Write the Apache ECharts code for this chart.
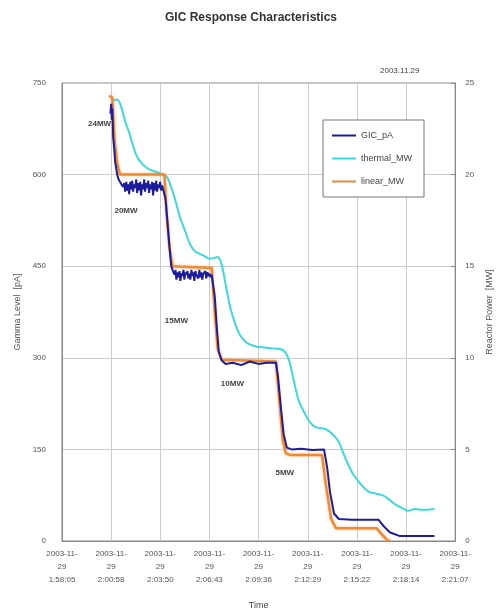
<!DOCTYPE html>
<html><head><meta charset="utf-8">
<script src="https://cdn.jsdelivr.net/npm/echarts@6/dist/echarts.min.js"></script>
<style>html,body{margin:0;padding:0;background:#fff}#c{width:502px;height:616px}</style>
</head><body><div id="c"></div>
<script>
// elapsed seconds from 1:58:05 (2003-11-29)
const xTickLabels = ['1:58:05','2:00:58','2:03:50','2:06:43','2:09:36','2:12:29','2:15:22','2:18:14','2:21:07'];
const tickStep = 172.75;

const gicT = [170,173,175,177,180,184,187,190,194,199,204,209,215,219,222,226,229,233,236,240,243,247,250,254,257,261,264,268,271,275,278,282,285,289,292,296,299,303,306,310,313,317,320,324,327,331,334,338,341,345,348,352,357,364,371,378,384,390,395,399,402,406,409,413,416,420,423,427,430,434,437,441,444,448,451,455,458,462,465,469,472,476,479,483,486,490,493,497,500,504,507,511,514,518,522,526,530,537,544,551,561,575,600,630,660,690,720,752,759,769,779,790,807,840,880,921,932,942,956,973,1020,1070,1112,1129,1153,1188,1250,1309];
const gicPA = [700,716,690,708,660,640,620,612,600,592,588,584,580,586,572,588,574,584,568,588,576,590,572,584,578,592,570,586,574,588,566,584,576,592,572,586,578,590,570,584,576,588,566,586,574,590,572,584,578,588,574,582,582,560,520,480,450,442,436,444,428,440,432,442,426,438,434,444,428,440,436,442,430,438,428,444,434,440,426,442,436,438,430,444,432,440,428,438,436,442,430,440,434,438,432,436,435,400,350,310,296,290,292,288,294,290,292,292,270,220,175,153,150,151,149,150,120,80,45,36,35,35,35,25,14,8,8,8];

const thermalT = [173,194,208,222,236,249,263,281,305,339,367,384,398,416,433,450,468,495,520,547,561,575,592,610,627,651,686,755,779,797,814,831,849,870,894,928,953,973,991,1008,1025,1050,1077,1101,1126,1147,1171,1195,1216,1240,1268,1309];
const thermalMW = [24.0,24.1,23.7,22.9,22.3,21.6,21.0,20.6,20.3,20.1,19.9,19.3,18.6,17.6,16.9,16.2,15.8,15.6,15.4,15.5,15.1,14.0,12.7,11.8,11.2,10.8,10.6,10.5,10.4,9.9,8.8,7.7,7.1,6.5,6.2,6.1,5.8,5.4,4.7,4.1,3.6,3.1,2.7,2.6,2.5,2.3,2.0,1.8,1.65,1.75,1.7,1.75];

const linearT = [166,177,184,194,204,360,367,378,388,526,537,547,561,752,762,776,786,800,914,928,946,963,1105,1122,1143,1153];
const linearMW = [24.3,24.2,22.0,20.6,20.0,20.0,18.0,16.0,15.0,14.9,12.5,10.5,9.9,9.8,8.0,5.5,4.8,4.7,4.7,3.0,1.2,0.7,0.7,0.4,0.05,0];

const noteText = ['24MW','20MW','15MW','10MW','5MW'];
const noteT = [132,225,402,599,783];
const noteMW = [22.8,18.0,12.0,8.6,3.7];

const zip = (a,b)=>a.map((v,i)=>[v,b[i]]);
const chart = echarts.init(document.getElementById('c'));
const axisFont = {fontFamily:'Liberation Sans', fontSize:8, color:'#555'};
chart.setOption({
  animation:false,
  backgroundColor:'#fff',
  title:[
    {text:'GIC Response Characteristics', left:'center', top:7,
     textStyle:{fontFamily:'Liberation Sans', fontSize:12, fontWeight:'bold', color:'#333'}},
    {text:'2003.11.29', left:375, top:62, textStyle:{fontFamily:'Liberation Sans', fontSize:8, fontWeight:'normal', color:'#444'}}
  ],
  legend:{
    orient:'vertical', left:323, top:120, itemWidth:24, itemHeight:2, itemGap:14,
    backgroundColor:'#fff', borderColor:'#777', borderWidth:1, padding:[11,12,11,9],
    icon:'rect',
    textStyle:{fontFamily:'Liberation Sans', fontSize:9, color:'#444'},
    data:['GIC_pA','thermal_MW','linear_MW']
  },
  grid:{left:62, right:41, top:83, bottom:75, show:true, borderColor:'#888', borderWidth:1},
  xAxis:{
    type:'value', min:0, max:tickStep*8, interval:tickStep,
    name:'Time', nameLocation:'middle', nameGap:60,
    nameTextStyle:{fontFamily:'Liberation Sans', fontSize:9, color:'#444'},
    axisLine:{lineStyle:{color:'#888'}}, axisTick:{show:false},
    splitLine:{lineStyle:{color:'#ccc'}},
    axisLabel:Object.assign({}, axisFont, {lineHeight:13, margin:6,
      formatter:v=>{const i=Math.round(v/tickStep); return '2003-11-\n29\n'+xTickLabels[i];}})
  },
  yAxis:[
    {type:'value', min:0, max:750, interval:150, name:'Gamma Level  [pA]', nameLocation:'middle', nameGap:36,
     nameTextStyle:{fontFamily:'Liberation Sans', fontSize:9, color:'#555'},
     axisLine:{show:true, lineStyle:{color:'#888'}}, axisTick:{show:false},
     splitLine:{lineStyle:{color:'#ccc'}}, axisLabel:Object.assign({}, axisFont, {margin:16})},
    {type:'value', min:0, max:25, interval:5, name:'Reactor Power  [MW]', nameLocation:'middle', nameGap:24,
     nameTextStyle:{fontFamily:'Liberation Sans', fontSize:9, color:'#555'},
     axisLine:{show:true, lineStyle:{color:'#888'}}, axisTick:{show:true, inside:true, length:4, lineStyle:{color:'#888'}},
     splitLine:{show:false}, axisLabel:Object.assign({}, axisFont, {margin:10})}
  ],
  series:[
    {name:'thermal_MW', type:'line', yAxisIndex:1, data:zip(thermalT,thermalMW), showSymbol:false, smooth:0.3,
     color:'#3fd8dc', lineStyle:{width:2, color:'#3fd8dc'}, z:2},
    {name:'linear_MW', type:'line', yAxisIndex:1, data:zip(linearT,linearMW), showSymbol:false,
     color:'#e88a3a', lineStyle:{width:2.5, color:'#ef8a30', shadowColor:'rgba(240,150,80,0.6)', shadowBlur:3}, z:3,
     markPoint:{symbol:'circle', symbolSize:0, silent:true,
       label:{show:true, position:'inside', fontFamily:'Liberation Sans', fontSize:8, fontWeight:'bold', color:'#444',
         formatter:p=>p.name},
       data:noteText.map((t,i)=>({name:t, coord:[noteT[i], noteMW[i]]}))}},
    {name:'GIC_pA', type:'line', yAxisIndex:0, data:zip(gicT,gicPA), showSymbol:false,
     color:'#1c1c9c', lineStyle:{width:2, color:'#1c1c9c'}, z:4}
  ]
});
</script></body></html>
